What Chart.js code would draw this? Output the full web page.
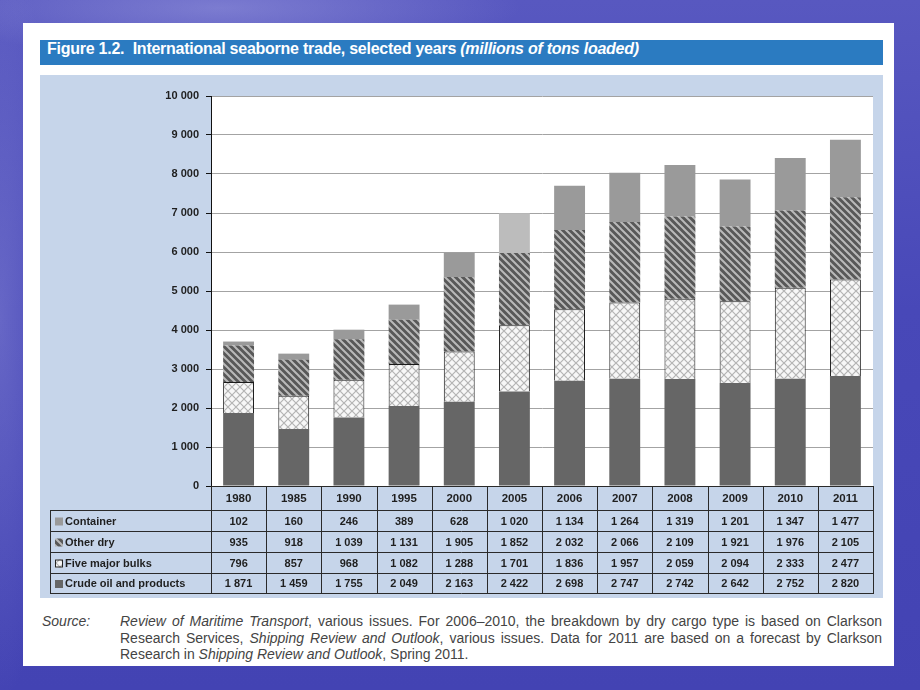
<!DOCTYPE html>
<html>
<head>
<meta charset="utf-8">
<script src="https://cdn.jsdelivr.net/npm/chart.js@4/dist/chart.umd.min.js"></script>
<style>
  html, body { margin: 0; padding: 0; }
  body {
    width: 920px; height: 690px; overflow: hidden; position: relative;
    background:
      radial-gradient(ellipse 300px 50px at 220px 8px, rgba(160,160,225,0.5), rgba(160,160,225,0) 100%),
      radial-gradient(ellipse 60px 380px at 0px 320px, rgba(140,140,215,0.45), rgba(140,140,215,0) 100%),
      linear-gradient(180deg, #5858c0 0%, #4848b8 45%, #4343b3 100%);
  }
  .panel { position: absolute; left: 23px; top: 23px; width: 871px; height: 643px; background: #fff; }
  .titlebar {
    position: absolute; left: 40px; top: 40px; width: 836px; height: 25px; padding-left: 7px;
    background: #2b7bc1; color: #fff; line-height: 25px; white-space: nowrap; letter-spacing: -0.25px;
    font: bold 16px 'Liberation Sans Narrow', 'Liberation Sans', Arial, sans-serif;
  }
  .titlebar i { font-style: italic; }
  #chart { position: absolute; left: 40px; top: 75px; }
  .source {
    position: absolute; left: 42px; top: 613px; width: 840px;
    font: 14px 'Liberation Sans', Arial, sans-serif; color: #444; line-height: 16.5px;
  }
  .source .lab { position: absolute; left: 0; top: 0; font-style: italic; }
  .source .txt { position: absolute; left: 78px; top: 0; width: 762px; }
  .source .ln { display: block; white-space: nowrap; }
  .source .j { text-align: justify; text-align-last: justify; white-space: normal; }
</style>
</head>
<body>
<div class="panel"></div>
<div class="titlebar">Figure 1.2.&nbsp; International seaborne trade, selected years <i>(millions of tons loaded)</i></div>
<canvas id="chart" width="843" height="523"></canvas>
<div class="source">
  <span class="lab">Source:</span>
  <div class="txt">
    <span class="ln j"><i>Review of Maritime Transport</i>, various issues. For 2006–2010, the breakdown by dry cargo type is based on Clarkson</span>
    <span class="ln j">Research Services, <i>Shipping Review and Outlook</i>, various issues. Data for 2011 are based on a forecast by Clarkson</span>
    <span class="ln">Research in <i>Shipping Review and Outlook</i>, Spring 2011.</span>
  </div>
</div>
<script>
const years = ["1980", "1985", "1990", "1995", "2000", "2005", "2006", "2007", "2008", "2009", "2010", "2011"];
const container = [102, 160, 246, 389, 628, 1020, 1134, 1264, 1319, 1201, 1347, 1477];
const otherDry = [935, 918, 1039, 1131, 1905, 1852, 2032, 2066, 2109, 1921, 1976, 2105];
const fiveMajorBulks = [796, 857, 968, 1082, 1288, 1701, 1836, 1957, 2059, 2094, 2333, 2477];
const crudeOil = [1871, 1459, 1755, 2049, 2163, 2422, 2698, 2747, 2742, 2642, 2752, 2820];
const yTicks = [0, 1000, 2000, 3000, 4000, 5000, 6000, 7000, 8000, 9000, 10000];

const FONT = "'Liberation Sans Narrow', 'Liberation Sans', Arial, sans-serif";
const AREA_BG = "#c6d5ea";

// thousands with a space, like the report
function fmt(v) {
    if (v < 1000) return String(v);
    return Math.floor(v / 1000) + " " + String(v % 1000).padStart(3, "0");
}

function stripePattern() {
    const c = document.createElement("canvas");
    c.width = c.height = 7;
    const g = c.getContext("2d");
    g.fillStyle = "#585858";
    g.fillRect(0, 0, 7, 7);
    g.strokeStyle = "#b9b9b9";
    g.lineWidth = 2;
    g.beginPath();
    [-7, 0, 7].forEach(o => { g.moveTo(o - 1, -1); g.lineTo(o + 8, 8); });
    g.stroke();
    return g.createPattern(c, "repeat");
}

function hatchPattern() {
    const c = document.createElement("canvas");
    c.width = c.height = 8;
    const g = c.getContext("2d");
    g.fillStyle = "#f7f7f7";
    g.fillRect(0, 0, 8, 8);
    g.strokeStyle = "#b4b4b4";
    g.lineWidth = 1.2;
    g.beginPath();
    g.moveTo(-1, -1); g.lineTo(9, 9);
    g.moveTo(9, -1); g.lineTo(-1, 9);
    g.stroke();
    return g.createPattern(c, "repeat");
}

const stripes = stripePattern();
const hatch = hatchPattern();
const containerColors = years.map(y => y === "2005" ? "#bcbcbc" : "#9a9a9a");

// rows of the data table, top to bottom
const tableRows = [
    { label: "Container", values: container, swatch: "#9a9a9a" },
    { label: "Other dry", values: otherDry, swatch: stripes },
    { label: "Five major bulks", values: fiveMajorBulks, swatch: hatch, outline: true },
    { label: "Crude oil and products", values: crudeOil, swatch: "#666666" },
];

const backgroundPlugin = {
    id: "bg",
    beforeDraw(chart) {
        const { ctx, chartArea: a } = chart;
        ctx.save();
        ctx.fillStyle = AREA_BG;
        ctx.fillRect(0, 0, chart.width, chart.height);
        ctx.fillStyle = "#ffffff";
        ctx.fillRect(a.left, a.top, a.right - a.left, a.bottom - a.top);
        ctx.restore();
    }
};

const tablePlugin = {
    id: "dataTable",
    afterDraw(chart) {
        const { ctx, chartArea: a } = chart;
        const x = chart.scales.x;
        const colW = (a.right - a.left) / years.length;
        const headTop = a.bottom, headBottom = a.bottom + 24;
        const rowYs = [headBottom, headBottom + 21, headBottom + 42, headBottom + 63, headBottom + 83];
        const tableLeft = 10;

        ctx.save();
        ctx.strokeStyle = "#2a2a2a";
        ctx.lineWidth = 1;
        ctx.beginPath();
        // horizontal lines
        ctx.moveTo(a.left, headTop + 0.5); ctx.lineTo(a.right, headTop + 0.5);
        rowYs.forEach(y => { ctx.moveTo(tableLeft, y + 0.5); ctx.lineTo(a.right, y + 0.5); });
        // vertical lines
        for (let i = 0; i <= years.length; i++) {
            const xx = Math.round(a.left + i * colW) + 0.5;
            ctx.moveTo(xx, headTop); ctx.lineTo(xx, rowYs[4] + 1);
        }
        ctx.moveTo(tableLeft + 0.5, headBottom); ctx.lineTo(tableLeft + 0.5, rowYs[4] + 1);
        ctx.stroke();

        ctx.fillStyle = "#1f1f1f";
        ctx.font = "bold 11.5px " + FONT;
        ctx.textAlign = "center";
        ctx.textBaseline = "middle";
        years.forEach((yr, i) => {
            ctx.fillText(yr, x.getPixelForValue(i), (headTop + headBottom) / 2 + 1);
        });

        ctx.font = "bold 11px " + FONT;
        tableRows.forEach((row, r) => {
            const cy = (rowYs[r] + rowYs[r + 1]) / 2 + 1;
            // swatch
            ctx.fillStyle = row.swatch;
            ctx.fillRect(tableLeft + 5, cy - 4, 8, 8);
            if (row.outline) {
                ctx.strokeStyle = "#222";
                ctx.strokeRect(tableLeft + 5.5, cy - 3.5, 7, 7);
            }
            ctx.fillStyle = "#1f1f1f";
            ctx.textAlign = "left";
            ctx.fillText(row.label, tableLeft + 15, cy);
            ctx.textAlign = "center";
            row.values.forEach((v, i) => {
                ctx.fillText(fmt(v), x.getPixelForValue(i), cy);
            });
        });
        ctx.restore();
    }
};

new Chart(document.getElementById("chart").getContext("2d"), {
    type: "bar",
    data: {
        labels: years,
        datasets: [
            { label: "Crude oil and products", data: crudeOil, backgroundColor: "#666666", borderWidth: 0 },
            { label: "Five major bulks", data: fiveMajorBulks, backgroundColor: hatch, borderColor: "#1a1a1a", borderWidth: 1 },
            { label: "Other dry", data: otherDry, backgroundColor: stripes, borderWidth: 0 },
            { label: "Container", data: container, backgroundColor: containerColors, borderWidth: 0 },
        ],
    },
    options: {
        responsive: false,
        animation: false,
        devicePixelRatio: 1,
        barPercentage: 0.56,
        categoryPercentage: 1,
        layout: { padding: { left: 0, top: 21, right: 10, bottom: 112 } },
        plugins: {
            legend: { display: false },
            tooltip: { enabled: false },
        },
        scales: {
            x: {
                stacked: true,
                grid: { display: false },
                ticks: { display: false },
                border: { display: true, color: "#111", width: 1 },
                afterFit: s => { s.height = 0; },
            },
            y: {
                stacked: true,
                min: 0,
                max: 10000,
                afterBuildTicks: s => { s.ticks = yTicks.map(v => ({ value: v })); },
                ticks: {
                    padding: 7,
                    color: "#1f1f1f",
                    font: { family: FONT, size: 11, weight: "bold" },
                    callback: v => fmt(v),
                },
                grid: { color: "#a3a3a3", lineWidth: 1, tickLength: 5, tickColor: "#111" },
                border: { display: true, color: "#111", width: 1 },
                afterFit: s => { s.width = 171; },
            },
        },
    },
    plugins: [backgroundPlugin, tablePlugin],
});
</script>
</body>
</html>
